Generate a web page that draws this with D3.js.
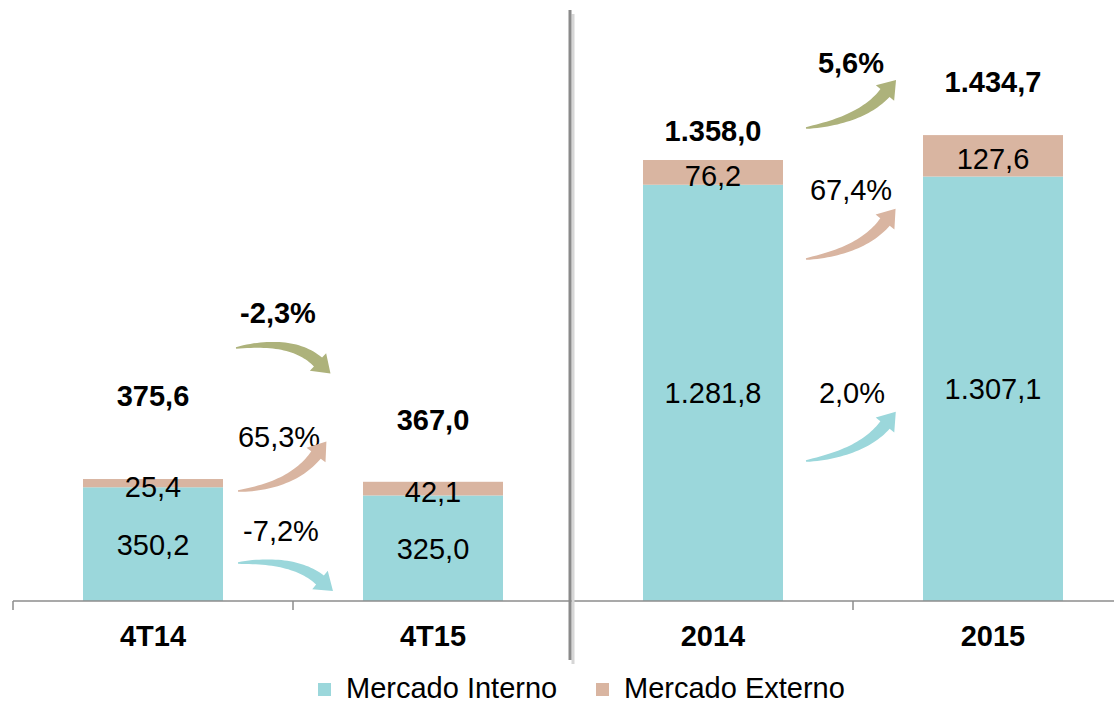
<!DOCTYPE html>
<html>
<head>
<meta charset="utf-8">
<script src="https://cdn.jsdelivr.net/npm/d3@7"></script>
<style>
  body { margin: 0; background: #fff; }
  text { font-family: Arial, "Liberation Sans", sans-serif; }
</style>
</head>
<body>
<script>
// data
const categories = ["4T14", "4T15", "2014", "2015"];
const interno = [350.2, 325.0, 1281.8, 1307.1];
const externo = [25.4, 42.1, 76.2, 127.6];
const totals = [375.6, 367.0, 1358.0, 1434.7];
// variations between pairs (4T14->4T15, 2014->2015)
const varTotal = [-2.3, 5.6];
const varExterno = [65.3, 67.4];
const varInterno = [-7.2, 2.0];
const seriesNames = ["Mercado Interno", "Mercado Externo"];

const colInterno = "#9bd7db", colExterno = "#d9b5a1", colTotal = "#adb27b";

const width = 1114, height = 704;
const baseY = 601;
const fs = 29;

const pt = d3.formatLocale({decimal: ",", thousands: ".", grouping: [3], currency: ["R$", ""], minus: "-"});
const fmt = pt.format(",.1f");
const fmtPct = d => pt.format(".1f")(d) + "%";

const x = d3.scaleBand().domain(categories).range([13, 1133]).paddingInner(0.5).paddingOuter(0.25);
const y = d3.scaleLinear().domain([0, 1358]).range([baseY, 160]);
const bw = x.bandwidth();

const svg = d3.select("body").append("svg")
  .attr("width", width).attr("height", height);

// bars
const g = svg.append("g");
categories.forEach((c, i) => {
  g.append("rect")
    .attr("x", x(c)).attr("width", bw)
    .attr("y", y(interno[i])).attr("height", baseY - y(interno[i]))
    .attr("fill", colInterno);
  g.append("rect")
    .attr("x", x(c)).attr("width", bw)
    .attr("y", y(interno[i] + externo[i])).attr("height", y(interno[i]) - y(interno[i] + externo[i]))
    .attr("fill", colExterno);
});

// axis
svg.append("line")
  .attr("x1", 13).attr("x2", width).attr("y1", baseY).attr("y2", baseY)
  .attr("stroke", "#8c8c8c").attr("stroke-width", 1.5);
const step = x.step();
d3.range(5).forEach(k => {
  const tx = 13 + k * step;
  svg.append("line")
    .attr("x1", tx).attr("x2", tx).attr("y1", baseY).attr("y2", baseY + 9)
    .attr("stroke", "#8c8c8c").attr("stroke-width", 1.5);
});

svg.append("g").selectAll("text")
  .data(categories).join("text")
  .attr("x", d => x(d) + bw / 2)
  .attr("y", 646)
  .attr("text-anchor", "middle")
  .attr("font-size", fs).attr("font-weight", "bold")
  .text(d => d);

// divider with shadow
const divX = 13 + 2 * step - 3;
svg.append("line")
  .attr("x1", divX + 3).attr("x2", divX + 3).attr("y1", 14).attr("y2", 664)
  .attr("stroke", "#d6d6d6").attr("stroke-width", 3);
svg.append("line")
  .attr("x1", divX).attr("x2", divX).attr("y1", 10).attr("y2", 660)
  .attr("stroke", "#8a8a8a").attr("stroke-width", 3);

// value labels
const lab = svg.append("g").attr("font-size", fs).attr("text-anchor", "middle");
categories.forEach((c, i) => {
  const cx = x(c) + bw / 2;
  lab.append("text")
    .attr("x", cx).attr("y", (baseY + y(interno[i])) / 2)
    .attr("dy", "0.36em").text(fmt(interno[i]));
  lab.append("text")
    .attr("x", cx).attr("y", (y(interno[i]) + y(interno[i] + externo[i])) / 2 + 3)
    .attr("dy", "0.36em").text(fmt(externo[i]));
});

// totals (hand placed above each bar in the original)
const totalLift = [83, 62, 29, 54];
categories.forEach((c, i) => {
  lab.append("text")
    .attr("x", x(c) + bw / 2)
    .attr("y", y(interno[i] + externo[i]) - totalLift[i])
    .attr("dy", "0.36em")
    .attr("font-weight", "bold")
    .text(fmt(totals[i]));
});

// curved arrows
function arrowPath(p0, c, p1, w0, w1, headW, headL) {
  const L = [], R = [];
  const n = 30;
  for (let k = 0; k <= n; k++) {
    const t = k / n, u = 1 - t;
    const px = u * u * p0[0] + 2 * u * t * c[0] + t * t * p1[0];
    const py = u * u * p0[1] + 2 * u * t * c[1] + t * t * p1[1];
    let dx = 2 * u * (c[0] - p0[0]) + 2 * t * (p1[0] - c[0]);
    let dy = 2 * u * (c[1] - p0[1]) + 2 * t * (p1[1] - c[1]);
    const len = Math.hypot(dx, dy); dx /= len; dy /= len;
    const w = (w0 + (w1 - w0) * Math.pow(t, 0.7)) / 2;
    L.push([px - dy * w, py + dx * w]);
    R.push([px + dy * w, py - dx * w]);
  }
  let dx = p1[0] - c[0], dy = p1[1] - c[1];
  const len = Math.hypot(dx, dy); dx /= len; dy /= len;
  const tip = [p1[0] + dx * headL, p1[1] + dy * headL];
  const hl = [p1[0] - dy * headW / 2, p1[1] + dx * headW / 2];
  const hr = [p1[0] + dy * headW / 2, p1[1] - dx * headW / 2];
  const pts = L.concat([hl, tip, hr], R.reverse());
  return d3.line()(pts) + "Z";
}

const arrows = [
  {col: colTotal, v: varTotal[0], bold: true, p0: [236, 348], c: [292, 338], p1: [318, 362], lab: [278, 313]},
  {col: colExterno, v: varExterno[0], bold: false, p0: [238, 491], c: [292, 486], p1: [316, 455], lab: [279, 437]},
  {col: colInterno, v: varInterno[0], bold: false, p0: [238, 563], c: [294, 558], p1: [320, 580], lab: [281, 531]},
  {col: colTotal, v: varTotal[1], bold: true, p0: [806, 128], c: [862, 120], p1: [885, 93], lab: [851, 63]},
  {col: colExterno, v: varExterno[1], bold: false, p0: [806, 259], c: [862, 251], p1: [885, 222], lab: [851, 190]},
  {col: colInterno, v: varInterno[1], bold: false, p0: [806, 461], c: [862, 453], p1: [885, 425], lab: [852, 393]}
];

arrows.forEach(a => {
  svg.append("path")
    .attr("d", arrowPath(a.p0, a.c, a.p1, 1.5, 12, 24, 17))
    .attr("fill", a.col);
  lab.append("text")
    .attr("x", a.lab[0]).attr("y", a.lab[1])
    .attr("dy", "0.36em")
    .attr("font-weight", a.bold ? "bold" : "normal")
    .text(fmtPct(a.v));
});

// legend
const leg = svg.append("g").attr("font-size", fs);
const legX = [318, 596];
seriesNames.forEach((s, i) => {
  leg.append("rect")
    .attr("x", legX[i]).attr("y", 683).attr("width", 13).attr("height", 13)
    .attr("fill", i === 0 ? colInterno : colExterno);
  leg.append("text")
    .attr("x", legX[i] + 28).attr("y", 688)
    .attr("dy", "0.36em")
    .text(s);
});
</script>
</body>
</html>
